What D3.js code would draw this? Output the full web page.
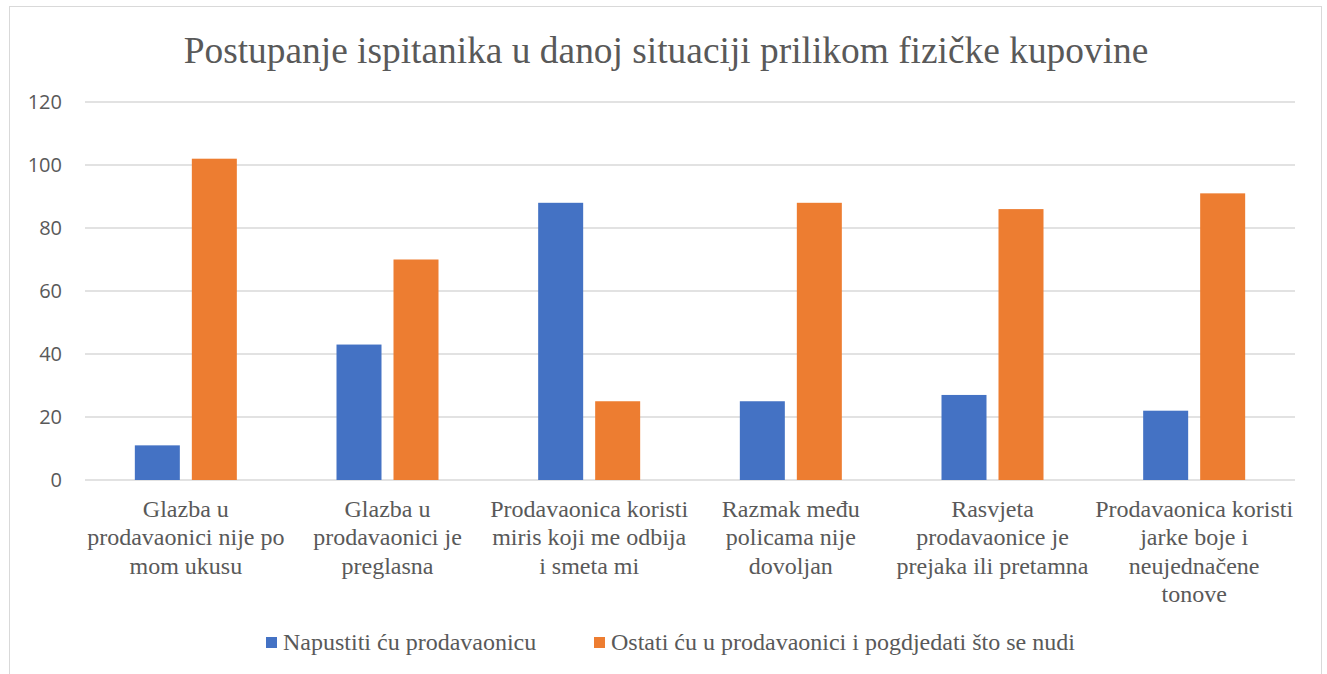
<!DOCTYPE html>
<html>
<head>
<meta charset="utf-8">
<script src="https://cdn.jsdelivr.net/npm/d3@7"></script>
<style>
  body { margin: 0; background: #fff; }
  svg { display: block; }
</style>
</head>
<body>
<script>
// categories are already split into the lines shown under the axis
const categories = [
	['Glazba u', 'prodavaonici nije po', 'mom ukusu'],
	['Glazba u', 'prodavaonici je', 'preglasna'],
	['Prodavaonica koristi', 'miris koji me odbija', 'i smeta mi'],
	['Razmak među', 'policama nije', 'dovoljan'],
	['Rasvjeta', 'prodavaonice je', 'prejaka ili pretamna'],
	['Prodavaonica koristi', 'jarke boje i', 'neujednačene', 'tonove']
];
const seriesNames = ['Napustiti ću prodavaonicu', 'Ostati ću u prodavaonici i pogdjedati što se nudi'];
const napustiti = [11, 43, 88, 25, 27, 22];
const ostati = [102, 70, 25, 88, 86, 91];
const yTicks = [0, 20, 40, 60, 80, 100, 120];
const colors = ['#4472C4', '#ED7D31'];

const width = 1327;
const height = 674;
const serif = '"Liberation Serif", "Times New Roman", serif';
const sans = '"Open Sans", sans-serif';
const grey = '#595959';

const svg = d3.select('body').append('svg')
	.attr('width', width)
	.attr('height', height);

// chart frame
svg.append('rect')
	.attr('x', 9.5).attr('y', 6.5)
	.attr('width', 1312).attr('height', 680)
	.attr('fill', '#fff')
	.attr('stroke', '#d9d9d9');

svg.append('text')
	.attr('x', 666).attr('y', 63)
	.attr('text-anchor', 'middle')
	.style('font-family', serif)
	.style('font-size', '37.4px')
	.attr('fill', grey)
	.text('Postupanje ispitanika u danoj situaciji prilikom fizičke kupovine');

const x0 = d3.scaleBand()
	.domain(d3.range(categories.length))
	.range([85, 1295]);

const y = d3.scaleLinear()
	.domain([0, 120])
	.range([480, 102]);

// gridlines
svg.append('g')
	.selectAll('line')
	.data(yTicks)
	.enter()
	.append('line')
	.attr('x1', 85).attr('x2', 1295)
	.attr('y1', function(d) { return y(d); })
	.attr('y2', function(d) { return y(d); })
	.attr('stroke', '#d9d9d9')
	.attr('stroke-width', 1.5);

const yAxis = svg.append('g')
	.attr('transform', 'translate(62,0)')
	.call(d3.axisLeft(y).tickValues(yTicks).tickSize(0).tickPadding(0));
yAxis.select('.domain').remove();
yAxis.selectAll('text')
	.style('font-family', sans)
	.style('font-size', '20px')
	.attr('fill', grey);

const barW = 45;
const gap = 12;
const data = [napustiti, ostati];

data.forEach(function(vals, s) {
	svg.append('g')
		.selectAll('rect')
		.data(vals)
		.enter()
		.append('rect')
		.attr('x', function(d, i) {
			const c = x0(i) + x0.bandwidth() / 2;
			return s === 0 ? c - gap / 2 - barW : c + gap / 2;
		})
		.attr('y', function(d) { return y(d); })
		.attr('width', barW)
		.attr('height', function(d) { return y(0) - y(d); })
		.attr('fill', colors[s]);
});

// category labels
const cat = svg.append('g')
	.selectAll('text')
	.data(categories)
	.enter()
	.append('text')
	.attr('text-anchor', 'middle')
	.style('font-family', serif)
	.style('font-size', '24px')
	.attr('fill', grey)
	.attr('transform', function(d, i) { return 'translate(' + (x0(i) + x0.bandwidth() / 2) + ',517)'; });
cat.selectAll('tspan')
	.data(function(d) { return d; })
	.enter()
	.append('tspan')
	.attr('x', 0)
	.attr('dy', function(d, i) { return i === 0 ? 0 : 28.3; })
	.text(function(d) { return d; });

// legend
const legendX = [266, 594];
const legend = svg.append('g')
	.selectAll('g')
	.data(seriesNames)
	.enter()
	.append('g')
	.attr('transform', function(d, i) { return 'translate(' + legendX[i] + ',637)'; });
legend.append('rect')
	.attr('width', 11).attr('height', 11)
	.attr('fill', function(d, i) { return colors[i]; });
legend.append('text')
	.attr('x', 17).attr('y', 13)
	.style('font-family', serif)
	.style('font-size', '24px')
	.attr('fill', grey)
	.text(function(d) { return d; });
</script>
</body>
</html>
